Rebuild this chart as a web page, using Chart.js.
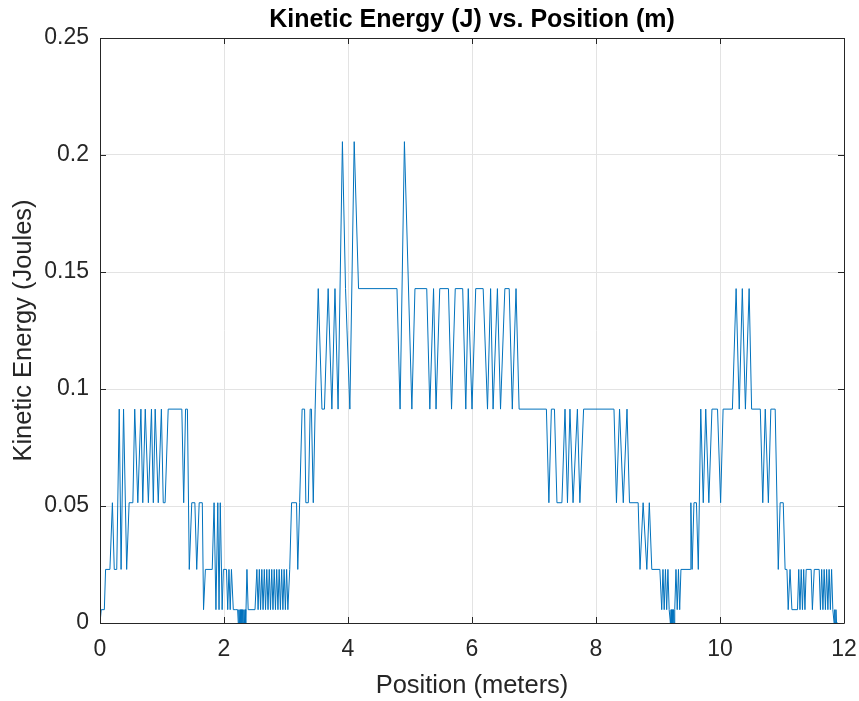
<!DOCTYPE html>
<html>
<head>
<meta charset="utf-8">
<title>Kinetic Energy vs. Position</title>
<script src="https://cdn.jsdelivr.net/npm/chart.js@4.4.0/dist/chart.umd.min.js"></script>
<style>
  html, body { margin: 0; padding: 0; background: #fff; }
  #wrap { width: 859px; height: 701px; }
</style>
</head>
<body>
<div id="wrap"><canvas id="keChart" width="859" height="701"></canvas></div>
<script>
// position along the track (m)
const positionM = [
  0.00, 0.02, 0.07, 0.09, 0.16, 0.20, 0.23, 0.27, 0.31, 0.34, 0.38, 0.43, 0.47, 0.53, 0.56, 0.61,
  0.66, 0.69, 0.73, 0.78, 0.83, 0.86, 0.89, 0.94, 0.99, 1.02, 1.05, 1.10, 1.32, 1.35, 1.38, 1.41,
  1.44, 1.48, 1.53, 1.56, 1.60, 1.65, 1.67, 1.70, 1.81, 1.84, 1.87, 1.90, 1.92, 1.94, 1.97, 1.99,
  2.04, 2.06, 2.08, 2.10, 2.12, 2.15, 2.18, 2.22, 2.23, 2.24, 2.25, 2.26, 2.27, 2.28, 2.29, 2.30,
  2.31, 2.32, 2.33, 2.34, 2.35, 2.37, 2.39, 2.50, 2.53, 2.55, 2.57, 2.59, 2.61, 2.63, 2.65, 2.67,
  2.69, 2.71, 2.73, 2.75, 2.77, 2.79, 2.81, 2.83, 2.85, 2.87, 2.89, 2.91, 2.93, 2.95, 2.97, 2.99,
  3.01, 3.03, 3.06, 3.09, 3.17, 3.19, 3.22, 3.26, 3.30, 3.32, 3.36, 3.39, 3.41, 3.44, 3.47, 3.52,
  3.58, 3.62, 3.68, 3.74, 3.79, 3.84, 3.91, 3.96, 4.03, 4.10, 4.17, 4.79, 4.84, 4.91, 5.03, 5.08,
  5.27, 5.32, 5.38, 5.42, 5.48, 5.62, 5.67, 5.73, 5.85, 5.90, 5.94, 6.00, 6.06, 6.18, 6.25, 6.30,
  6.34, 6.41, 6.46, 6.53, 6.60, 6.65, 6.71, 6.76, 7.20, 7.24, 7.28, 7.33, 7.37, 7.45, 7.50, 7.54,
  7.58, 7.63, 7.70, 7.74, 7.80, 8.29, 8.33, 8.38, 8.44, 8.50, 8.54, 8.68, 8.71, 8.76, 8.82, 8.86,
  8.90, 9.03, 9.06, 9.08, 9.10, 9.12, 9.14, 9.16, 9.18, 9.20, 9.21, 9.22, 9.23, 9.24, 9.25, 9.26,
  9.27, 9.29, 9.31, 9.33, 9.35, 9.37, 9.52, 9.53, 9.55, 9.58, 9.62, 9.65, 9.69, 9.73, 9.77, 9.82,
  9.87, 9.96, 10.01, 10.05, 10.20, 10.26, 10.31, 10.36, 10.41, 10.47, 10.51, 10.65, 10.69, 10.73, 10.78, 10.82,
  10.89, 10.94, 10.97, 11.02, 11.05, 11.08, 11.10, 11.13, 11.16, 11.25, 11.27, 11.29, 11.31, 11.33, 11.35, 11.37,
  11.39, 11.47, 11.49, 11.52, 11.60, 11.62, 11.64, 11.66, 11.68, 11.70, 11.72, 11.74, 11.76, 11.78, 11.80, 11.82,
  11.84, 11.85, 11.86, 11.87, 11.88, 11.90
];

// kinetic energy at each position (J)
const kineticJ = [
  0, 0.0057, 0.0057, 0.0229, 0.0229, 0.0514, 0.0229, 0.0229, 0.0914, 0.0229, 0.0914, 0.0229, 0.0514, 0.0514, 0.0914, 0.0514,
  0.0914, 0.0514, 0.0914, 0.0514, 0.0914, 0.0514, 0.0914, 0.0514, 0.0914, 0.0514, 0.0514, 0.0914, 0.0914, 0.0514, 0.0914, 0.0914,
  0.0229, 0.0514, 0.0514, 0.0229, 0.0514, 0.0514, 0.0057, 0.0229, 0.0229, 0.0514, 0.0057, 0.0514, 0.0057, 0.0514, 0.0057, 0.0229,
  0.0229, 0.0057, 0.0229, 0.0057, 0.0229, 0.0057, 0.0057, 0.0057, 0, 0.0057, 0, 0.0057, 0, 0.0057, 0, 0.0057,
  0, 0.0057, 0, 0.0057, 0, 0.0229, 0.0057, 0.0057, 0.0229, 0.0057, 0.0229, 0.0057, 0.0229, 0.0057, 0.0229, 0.0057,
  0.0229, 0.0057, 0.0229, 0.0057, 0.0229, 0.0057, 0.0229, 0.0057, 0.0229, 0.0057, 0.0229, 0.0057, 0.0229, 0.0057, 0.0229, 0.0057,
  0.0229, 0.0057, 0.0229, 0.0514, 0.0514, 0.0229, 0.0514, 0.0914, 0.0914, 0.0514, 0.0514, 0.0914, 0.0914, 0.0514, 0.0914, 0.1429,
  0.0914, 0.0914, 0.1429, 0.0914, 0.1429, 0.0914, 0.2057, 0.1429, 0.0914, 0.2057, 0.1429, 0.1429, 0.0914, 0.2057, 0.0914, 0.1429,
  0.1429, 0.0914, 0.1429, 0.0914, 0.1429, 0.1429, 0.0914, 0.1429, 0.1429, 0.0914, 0.1429, 0.0914, 0.1429, 0.1429, 0.0914, 0.1429,
  0.0914, 0.1429, 0.0914, 0.1429, 0.1429, 0.0914, 0.1429, 0.0914, 0.0914, 0.0514, 0.0914, 0.0914, 0.0514, 0.0514, 0.0914, 0.0514,
  0.0914, 0.0514, 0.0914, 0.0514, 0.0914, 0.0914, 0.0514, 0.0914, 0.0514, 0.0914, 0.0514, 0.0514, 0.0229, 0.0514, 0.0229, 0.0514,
  0.0229, 0.0229, 0.0057, 0.0229, 0.0057, 0.0229, 0.0057, 0.0229, 0.0057, 0, 0.0057, 0, 0.0057, 0, 0.0057, 0,
  0.0057, 0.0229, 0.0057, 0.0229, 0.0057, 0.0229, 0.0229, 0.0514, 0.0229, 0.0514, 0.0514, 0.0229, 0.0914, 0.0514, 0.0914, 0.0514,
  0.0914, 0.0914, 0.0514, 0.0914, 0.0914, 0.1429, 0.0914, 0.1429, 0.0914, 0.1429, 0.0914, 0.0914, 0.0514, 0.0914, 0.0514, 0.0914,
  0.0914, 0.0229, 0.0514, 0.0514, 0.0229, 0.0229, 0.0057, 0.0229, 0.0057, 0.0057, 0.0229, 0.0057, 0.0229, 0.0057, 0.0229, 0.0057,
  0.0229, 0.0229, 0.0057, 0.0229, 0.0229, 0.0057, 0.0229, 0.0057, 0.0229, 0.0057, 0.0229, 0.0057, 0.0229, 0.0057, 0.0229, 0.0057,
  0, 0.0057, 0, 0.0057, 0, 0
];

const xTickValues = [0, 2, 4, 6, 8, 10, 12];
const xTickLabels = ["0", "2", "4", "6", "8", "10", "12"];
const yTickValues = [0, 0.05, 0.1, 0.15, 0.2, 0.25];
const yTickLabels = ["0", "0.05", "0.1", "0.15", "0.2", "0.25"];
const chartTitle = "Kinetic Energy (J) vs. Position (m)";

const fontFamily = "'Liberation Sans', Arial, Helvetica, sans-serif";
const axisColor = "#262626";

// matlab style box, inward ticks and a title centred over the axes
const boxPlugin = {
  id: "matlabBox",
  afterDraw(chart) {
    const { ctx, chartArea: a, scales: { x, y } } = chart;
    const len = 6;
    ctx.save();
    ctx.strokeStyle = axisColor;
    ctx.lineWidth = 1;
    ctx.beginPath();
    ctx.rect(Math.round(a.left) + 0.5, Math.round(a.top) + 0.5,
      Math.round(a.right) - Math.round(a.left), Math.round(a.bottom) - Math.round(a.top));
    xTickValues.forEach((v) => {
      const px = Math.round(x.getPixelForValue(v)) + 0.5;
      ctx.moveTo(px, a.bottom); ctx.lineTo(px, a.bottom - len);
      ctx.moveTo(px, a.top); ctx.lineTo(px, a.top + len);
    });
    yTickValues.forEach((v) => {
      const py = Math.round(y.getPixelForValue(v)) + 0.5;
      ctx.moveTo(a.left, py); ctx.lineTo(a.left + len, py);
      ctx.moveTo(a.right, py); ctx.lineTo(a.right - len, py);
    });
    ctx.stroke();

    ctx.fillStyle = "#000";
    ctx.font = "bold 25px " + fontFamily;
    ctx.textAlign = "center";
    ctx.textBaseline = "alphabetic";
    ctx.fillText(chartTitle, (a.left + a.right) / 2, 27);
    ctx.restore();
  },
};

const points = positionM.map((x, i) => ({ x: x, y: kineticJ[i] }));

new Chart(document.getElementById("keChart"), {
  type: "line",
  data: {
    datasets: [
      {
        label: "Kinetic Energy",
        data: points,
        borderColor: "#0072BD",
        borderWidth: 1,
        pointRadius: 0,
        tension: 0,
        fill: false,
      },
    ],
  },
  options: {
    responsive: false,
    animation: false,
    layout: { padding: { left: 0, right: 15, top: 38, bottom: 0 } },
    plugins: {
      legend: { display: false },
      tooltip: { enabled: false },
      title: { display: false },
    },
    scales: {
      x: {
        type: "linear",
        min: 0,
        max: 12,
        afterBuildTicks: (scale) => { scale.ticks = xTickValues.map((v) => ({ value: v })); },
        afterFit: (scale) => {
          scale.height = 78;
          scale.paddingLeft = 0;
          scale.paddingRight = 0;
        },
        ticks: {
          callback: (v) => xTickLabels[xTickValues.indexOf(v)],
          color: axisColor,
          font: { family: fontFamily, size: 23 },
          padding: 13,
          maxRotation: 0,
        },
        grid: { color: "#e3e3e3", drawTicks: false },
        border: { display: false },
        title: {
          display: true,
          text: "Position (meters)",
          color: axisColor,
          font: { family: fontFamily, size: 25.5 },
          padding: { top: 0, bottom: 0 },
        },
      },
      y: {
        min: 0,
        max: 0.25,
        afterBuildTicks: (scale) => { scale.ticks = yTickValues.map((v) => ({ value: v })); },
        afterFit: (scale) => {
          scale.width = 100;
          scale.paddingTop = 0;
          scale.paddingBottom = 0;
        },
        ticks: {
          callback: (v) => yTickLabels[yTickValues.indexOf(v)],
          color: axisColor,
          font: { family: fontFamily, size: 23 },
          padding: 11,
        },
        grid: { color: "#e3e3e3", drawTicks: false },
        border: { display: false },
        title: {
          display: true,
          text: "Kinetic Energy (Joules)",
          color: axisColor,
          font: { family: fontFamily, size: 25.5 },
          padding: { top: 9, bottom: 0 },
        },
      },
    },
  },
  plugins: [boxPlugin],
});
</script>
</body>
</html>
